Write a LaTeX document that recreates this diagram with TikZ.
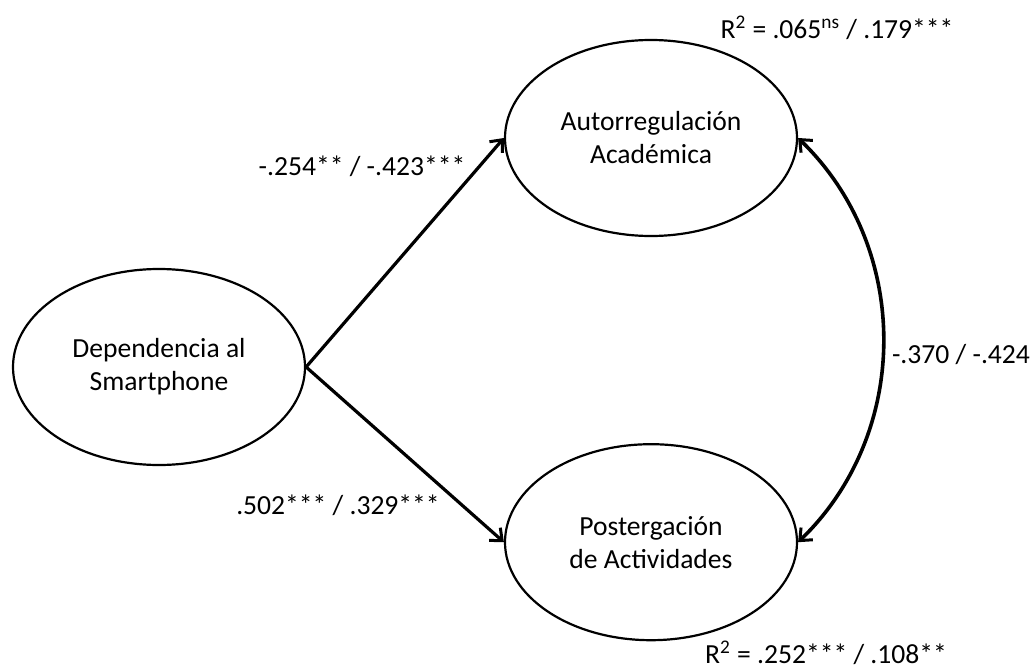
\documentclass[tikz,border=0pt]{standalone}
\usepackage{fontspec}
\setmainfont{Carlito}
\usetikzlibrary{arrows.meta,positioning,shapes.geometric}
\definecolor{semedge}{RGB}{0,0,0}
\tikzset{
  lat/.style={
    ellipse, draw=semedge, line width=1.1pt, align=center,
    inner sep=0pt, minimum width=146pt, minimum height=98pt,
    font=\fontsize{13.8}{16.5}\selectfont
  },
  arr/.style={-{Straight Barb[length=5pt,width=8.5pt,line width=1.5pt]}, draw=semedge, line width=1.6pt},
  darr/.style={{Straight Barb[length=5pt,width=8.5pt,line width=1.5pt]}-{Straight Barb[length=5pt,width=8.5pt,line width=1.5pt]}, draw=semedge, line width=1.8pt},
  coef/.style={font=\fontsize{13.8}{16.5}\selectfont, inner sep=0pt},
  every picture/.append style={line join=round}
}

\begin{document}
\begin{tikzpicture}[x=0.5pt, y=-0.5pt]
  \useasboundingbox (0,0) rectangle (1035,669);
  \node[lat] (dep) at (159,367) {Dependencia al\\Smartphone};
  \node[lat] (aut) at (651,138) {Autorregulación\\Académica};
  \node[lat, below=103pt of aut] (post) {Postergación\\de Actividades};
  \draw[arr] (dep.east) -- (aut.west);
  \draw[arr] (dep.east) -- (post.west);
  \draw[darr] (aut.east) to[bend left=46] (post.east);
  \node[coef] (c1) at (362,166) {-.254** / -.423***};
  \node[coef] (c2) at (338,505) {.502*** / .329***};
  \node[coef] (c3) at (961,355) {-.370 / -.424};
  \node[coef] (r1) at (837,28) {R\textsuperscript{2} = .065\textsuperscript{ns} / .179***};
  \node[coef] (r2) at (826,653) {R\textsuperscript{2} = .252*** / .108**};
\end{tikzpicture}
\end{document}
